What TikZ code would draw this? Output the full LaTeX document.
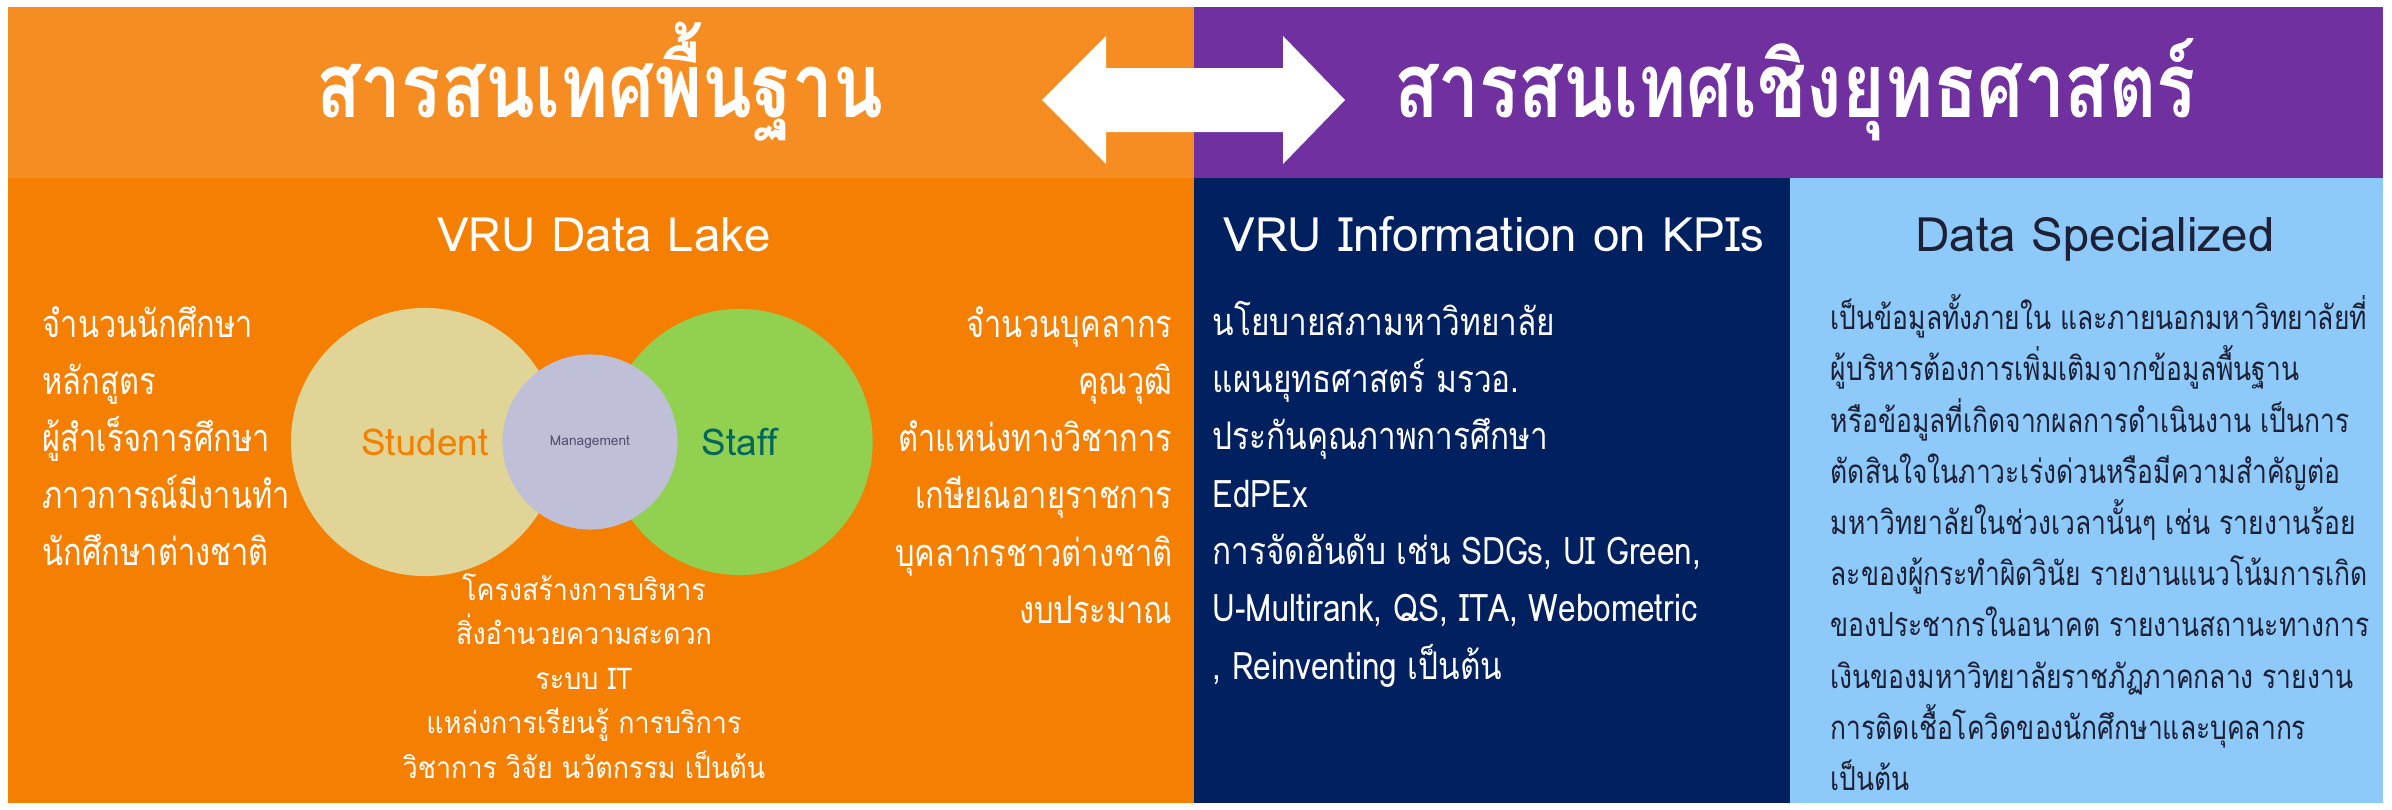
\documentclass[tikz,border=0pt]{standalone}
\usepackage{fontspec}
\setmainfont[Script=Thai]{Loma}
\newfontfamily\titlefont[Script=Thai, FakeStretch=0.81]{Loma}
\newfontfamily\listfont[Script=Thai, FakeStretch=0.81]{Loma}
\newfontfamily\parafont[Script=Thai, FakeStretch=0.80]{Loma}
\newfontfamily\kpifont[Script=Thai, FakeStretch=0.83]{Loma}
\newfontfamily\lowfont[Script=Thai, FakeStretch=0.90]{Loma}
\usetikzlibrary{positioning}

\definecolor{hdorange}{HTML}{F68D22}
\definecolor{lakeorange}{HTML}{F57F00}
\definecolor{kpipurple}{HTML}{7030A0}
\definecolor{kpinavy}{HTML}{002060}
\definecolor{specblue}{HTML}{8DC9F9}
\definecolor{studentbeige}{HTML}{E0D597}
\definecolor{staffgreen}{HTML}{92D050}
\definecolor{mgmtgray}{HTML}{BFBFD7}
\definecolor{stafftext}{HTML}{00665E}
\definecolor{mgmttext}{HTML}{505070}
\definecolor{spectext}{HTML}{1E2036}

\begin{document}
\begin{tikzpicture}[x=0.01cm, y=-0.01cm, >=latex,
    hdtitle/.style={text=white, inner sep=0, font=\titlefont\bfseries\fontsize{25.6}{30}\selectfont},
    heading/.style={inner sep=0, font=\fontsize{13.5}{16}\selectfont},
    listtext/.style={text=white, inner sep=0, font=\listfont\fontsize{10.8}{13}\selectfont},
    kpitext/.style={text=white, inner sep=0, font=\kpifont\fontsize{10.8}{13}\selectfont},
    smalllist/.style={text=white, inner sep=0, font=\lowfont\fontsize{8.5}{10}\selectfont},
    paratext/.style={text=spectext, inner sep=0, font=\parafont\fontsize{9.4}{11}\selectfont},
    venn/.style={circle, inner sep=0, font=\fontsize{10.5}{12}\selectfont}]

    \useasboundingbox (0,0) rectangle (2392,809);
    \fill[white] (0,0) rectangle (2392,809);

    % panels
    \fill[hdorange]   (8,7)      rectangle (1194,178);
    \fill[kpipurple]  (1194,7)   rectangle (2383,178);
    \fill[lakeorange] (8,178)    rectangle (1194,803);
    \fill[kpinavy]    (1194,178) rectangle (1790,803);
    \fill[specblue]   (1790,178) rectangle (2383,803);

    % double arrow between the two headers
    \fill[white] (1042,100) -- (1106,36) -- (1106,68) -- (1283,68) -- (1283,36)
        -- (1345,100) -- (1283,164) -- (1283,132) -- (1106,132) -- (1106,164) -- cycle;

    \node[hdtitle, anchor=base] (basic) at (600,117) {สารสนเทศพื้นฐาน};
    \node[hdtitle, anchor=base] (strategic) at (1795,117) {สารสนเทศเชิงยุทธศาสตร์};

    \node[heading, text=white, anchor=base] (lake) at (604,251) {VRU Data Lake};
    \node[heading, text=white, anchor=base] (kpi) at (1494,251) {VRU Information on KPIs};
    \node[heading, text=spectext, anchor=base] (special) at (2095,251) {Data Specialized};

    % venn
    \node[venn, fill=studentbeige, minimum size=2.68cm, text=lakeorange] (student) at (425,442) {Student};
    \node[venn, fill=staffgreen, minimum size=2.66cm, text=stafftext, right=0.46cm of student] (staff) {Staff};
    \node[venn, fill=mgmtgray, minimum size=1.75cm, text=mgmttext, font=\fontsize{3.9}{4}\selectfont] (mgmt) at (590,442) {Management};

    \foreach \lbl [count=\i] in {จำนวนนักศึกษา, หลักสูตร, ผู้สำเร็จการศึกษา, ภาวการณ์มีงานทำ, นักศึกษาต่างชาติ}
        \node[listtext, anchor=base west] (stud\i) at (42,280+57*\i) {\lbl};

    \foreach \lbl [count=\i] in {จำนวนบุคลากร, คุณวุฒิ, ตำแหน่งทางวิชาการ, เกษียณอายุราชการ, บุคลากรชาวต่างชาติ, งบประมาณ}
        \node[listtext, anchor=base east] (staff\i) at (1173,280+57.2*\i) {\lbl};

    \foreach \lbl [count=\i] in {โครงสร้างการบริหาร, สิ่งอำนวยความสะดวก, ระบบ IT, แหล่งการเรียนรู้  การบริการ, วิชาการ วิจัย นวัตกรรม เป็นต้น}
        \node[smalllist, anchor=base] (mgmt\i) at (584,555.5+44.5*\i) {\lbl};

    \foreach \lbl [count=\i] in {นโยบายสภามหาวิทยาลัย, แผนยุทธศาสตร์ มรวอ., ประกันคุณภาพการศึกษา, EdPEx,
        {การจัดอันดับ เช่น SDGs, UI Green,}, {U-Multirank, QS, ITA, Webometric}, {, Reinventing เป็นต้น}}
        \node[kpitext, anchor=base west] (kpi\i) at (1212,278+57.3*\i) {\lbl};

    \foreach \lbl [count=\i] in {เป็นข้อมูลทั้งภายใน และภายนอกมหาวิทยาลัยที่,
        ผู้บริหารต้องการเพิ่มเติมจากข้อมูลพื้นฐาน,
        หรือข้อมูลที่เกิดจากผลการดำเนินงาน เป็นการ,
        ตัดสินใจในภาวะเร่งด่วนหรือมีความสำคัญต่อ,
        มหาวิทยาลัยในช่วงเวลานั้นๆ เช่น รายงานร้อย,
        ละของผู้กระทำผิดวินัย รายงานแนวโน้มการเกิด,
        ของประชากรในอนาคต รายงานสถานะทางการ,
        เงินของมหาวิทยาลัยราชภัฏภาคกลาง รายงาน,
        การติดเชื้อโควิดของนักศึกษาและบุคลากร,
        เป็นต้น}
        \node[paratext, anchor=base west] (spec\i) at (1830,278.5+51.2*\i) {\lbl};

\end{tikzpicture}
\end{document}
